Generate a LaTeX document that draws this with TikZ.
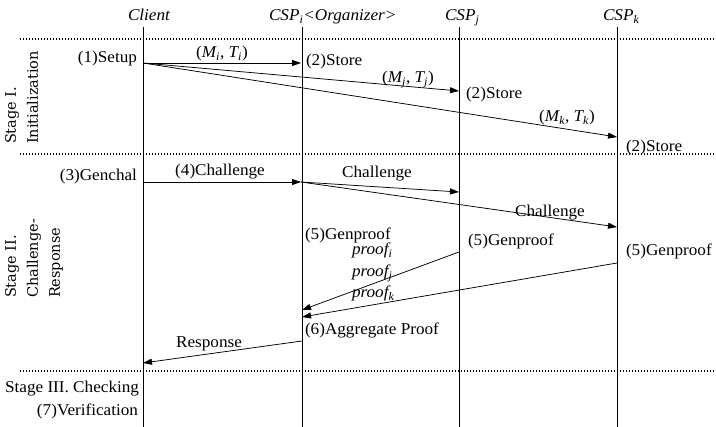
\documentclass[tikz,border=0pt]{standalone}
\usepackage{fontspec}
\setmainfont{Liberation Serif}[FakeStretch=1.04]
\newfontfamily\stagefont{DejaVu Serif}
\usetikzlibrary{arrows.meta}

\begin{document}
\begin{tikzpicture}[x=1pt,y=-1pt,
  every node/.style={inner sep=0pt, outer sep=0pt, font=\fontsize{16.5}{18}\selectfont},
  lifeline/.style={line width=0.7pt},
  stageline/.style={line width=1.3pt, dash pattern=on 1.4pt off 1.6pt},
  msg/.style={line width=0.75pt, -{Triangle[length=9pt,width=6pt]}},
  hdr/.style={anchor=base west, font=\fontsize{16.5}{18}\selectfont\itshape},
  lbl/.style={anchor=base west},
  lblr/.style={anchor=base east},
  lblc/.style={anchor=base},
  stage/.style={rotate=90, anchor=north west, align=left,
    font=\stagefont\fontsize{14.5}{22}\selectfont},
]
\useasboundingbox (0,0) rectangle (716,427);

% participants
\node[hdr] (h-client) at (128,21) {Client};
\node[hdr] (h-cspi) at (269,21) {CSP\textsubscript{i}<Organizer>};
\node[hdr] (h-cspj) at (445,21) {CSP\textsubscript{j}};
\node[hdr] (h-cspk) at (603,21) {CSP\textsubscript{k}};

% lifelines
\coordinate (c-top) at (143,27);  \coordinate (c-bot) at (143,427);
\coordinate (i-top) at (302,27);  \coordinate (i-bot) at (302,427);
\coordinate (j-top) at (459,27);  \coordinate (j-bot) at (459,427);
\coordinate (k-top) at (617,27);  \coordinate (k-bot) at (617,427);
\draw[lifeline] (c-top) -- (c-bot);
\draw[lifeline] (i-top) -- (i-bot);
\draw[lifeline] (j-top) -- (j-bot);
\draw[lifeline] (k-top) -- (k-bot);

% stage separators
\coordinate (s1-l) at (20,39);  \coordinate (s1-r) at (716,39);
\coordinate (s2-l) at (20,154); \coordinate (s2-r) at (716,154);
\coordinate (s3-l) at (20,371); \coordinate (s3-r) at (716,371);
\draw[stageline] (s1-l) -- (s1-r);
\draw[stageline] (s2-l) -- (s2-r);
\draw[stageline] (s3-l) -- (s3-r);

% stage titles
\node[stage] (st1) at (5,144) {Stage I.\\Initialization};
\node[stage] (st2) at (5,298) {Stage II.\\Challenge-\\Response};
\node[lblr] (st3) at (139,393) {Stage III. Checking};

% Stage I: initialization
\coordinate (setup) at (143,63);
\coordinate (store-i) at (301,63);
\coordinate (store-j) at (459,91);
\coordinate (store-k) at (617,137);
\draw[msg] (setup) -- (store-i);
\draw[msg] (setup) -- (store-j);
\draw[msg] (setup) -- (store-k);
\node[lblr] (t-setup) at (137,63) {(1)Setup};
\node[lblc] (t-mi) at (222,58) {(\textit{M\textsubscript{i}}, \textit{T\textsubscript{i}})};
\node[lblc] (t-mj) at (408,83) {(\textit{M\textsubscript{j}}, \textit{T\textsubscript{j}})};
\node[lblc] (t-mk) at (567,122) {(\textit{M\textsubscript{k}}, \textit{T\textsubscript{k}})};
\node[lbl] (t-si) at (306,66) {(2)Store};
\node[lbl] (t-sj) at (466,99) {(2)Store};
\node[lbl] (t-sk) at (626,152) {(2)Store};

% Stage II: challenge and response
\coordinate (ch-c) at (143,182);
\coordinate (ch-i) at (301,182);
\coordinate (ch-j) at (459,192);
\coordinate (ch-k) at (617,227);
\draw[msg] (ch-c) -- (ch-i);
\draw[msg] (ch-i) -- (ch-j);
\draw[msg] (ch-i) -- (ch-k);
\node[lblr] (t-gen) at (137,181) {(3)Genchal};
\node[lblc] (t-ch1) at (220,176) {(4)Challenge};
\node[lblc] (t-ch2) at (377,178) {Challenge};
\node[lblc] (t-ch3) at (550,217) {Challenge};

\node[lbl] (t-gpi) at (305,240) {(5)Genproof};
\node[lbl] (t-gpj) at (468,246) {(5)Genproof};
\node[lbl] (t-gpk) at (626,256) {(5)Genproof};

\coordinate (pf-j) at (459,252);
\coordinate (pf-k) at (617,263);
\coordinate (ag-j) at (302,310);
\coordinate (ag-k) at (302,317);
\draw[msg] (pf-j) -- (ag-j);
\draw[msg] (pf-k) -- (ag-k);
\node[lbl] (t-pi) at (352,255) {\textit{proof\textsubscript{i}}};
\node[lbl] (t-pj) at (352,277) {\textit{proof\textsubscript{j}}};
\node[lbl] (t-pk) at (352,298) {\textit{proof\textsubscript{k}}};

\node[lbl] (t-agg) at (305,335) {(6)Aggregate Proof};
\coordinate (resp-i) at (302,341);
\coordinate (resp-c) at (143,363);
\draw[msg] (resp-i) -- (resp-c);
\node[lblc] (t-resp) at (209,348) {Response};

% Stage III: checking
\node[lblr] (t-ver) at (138,416) {(7)Verification};
\end{tikzpicture}
\end{document}
